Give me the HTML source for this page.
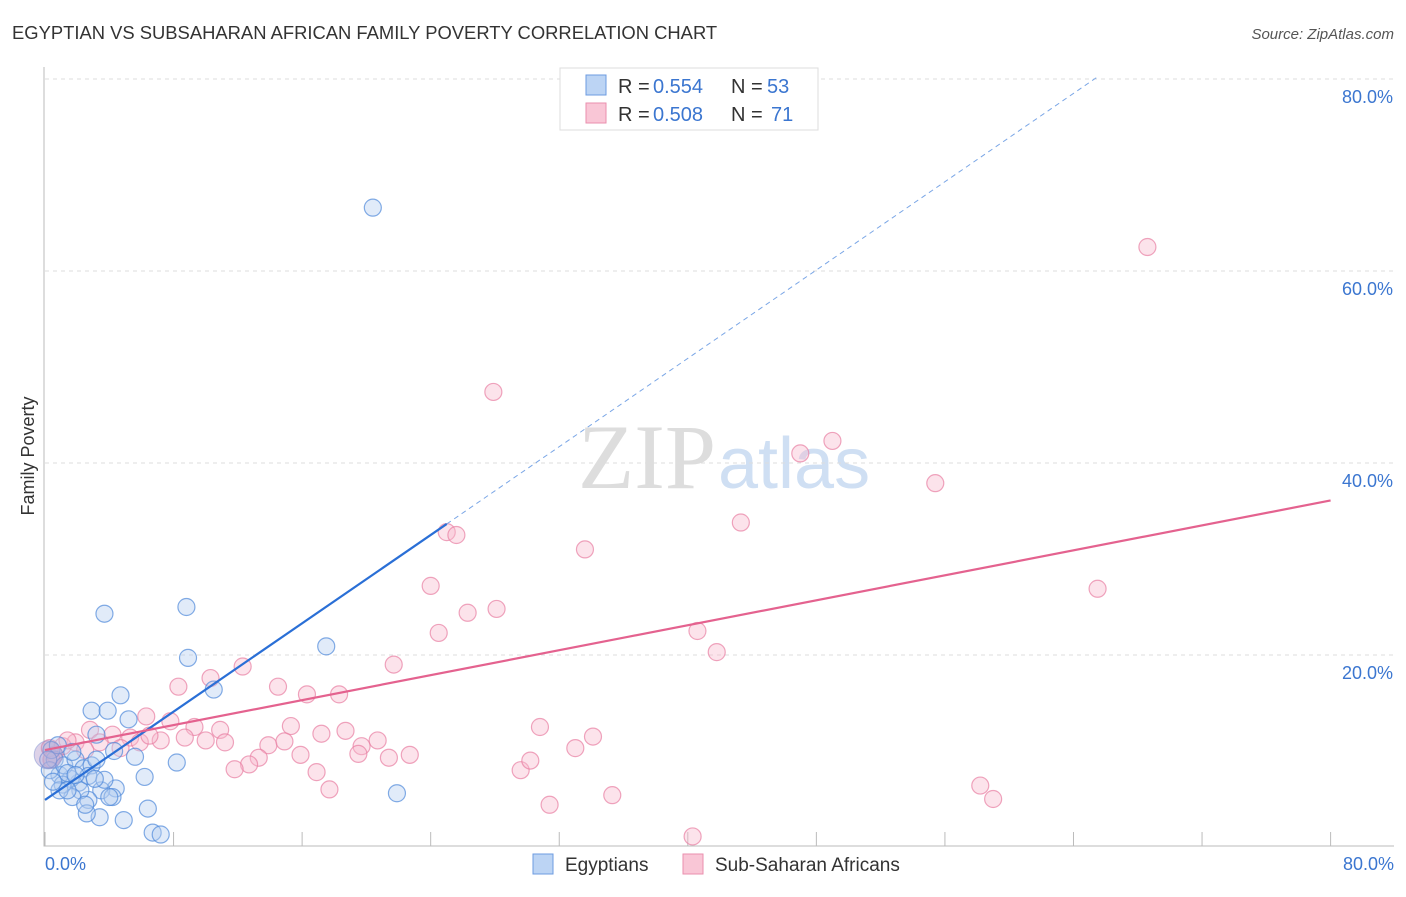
<!DOCTYPE html>
<html><head><meta charset="utf-8"><style>
body{margin:0;background:#fff;font-family:"Liberation Sans",sans-serif}
</style></head><body>
<svg width="1406" height="892" viewBox="0 0 1406 892" id="chart">
<text x="12" y="39" font-size="18.4" fill="#333">EGYPTIAN VS SUBSAHARAN AFRICAN FAMILY POVERTY CORRELATION CHART</text>
<text x="1394" y="39" font-size="15" fill="#555" font-style="italic" text-anchor="end">Source: ZipAtlas.com</text>
<text x="716" y="488" font-size="92" fill="#ddd" text-anchor="end" font-family="Liberation Serif">ZIP</text>
<text x="718" y="488" font-size="72" fill="#cfdff3">atlas</text>
<g id="grid"></g>
<g id="axes"></g>
<g id="marks"></g>
<text transform="translate(34,456) rotate(-90)" font-size="18" fill="#333" text-anchor="middle">Family Poverty</text>
<text x="45" y="870" font-size="18" fill="#3b76d0">0.0%</text>
<text x="1394" y="870" font-size="18" fill="#3b76d0" text-anchor="end">80.0%</text>
<g>
<rect x="560" y="68" width="258" height="62" fill="#fff" stroke="#ddd"/>
<rect x="586" y="75" width="20" height="20" fill="#bcd4f4" stroke="#6d9be0"/>
<rect x="586" y="103" width="20" height="20" fill="#f9c6d6" stroke="#ea8fae"/>
<text x="618" y="93" font-size="20" fill="#333">R = </text>
<text x="653" y="93" font-size="20" fill="#3b76d0">0.554</text>
<text x="731" y="93" font-size="20" fill="#333">N = </text>
<text x="767" y="93" font-size="20" fill="#3b76d0">53</text>
<text x="618" y="121" font-size="20" fill="#333">R = </text>
<text x="653" y="121" font-size="20" fill="#3b76d0">0.508</text>
<text x="731" y="121" font-size="20" fill="#333">N = </text>
<text x="771" y="121" font-size="20" fill="#3b76d0">71</text>
</g>
<g>
<rect x="533" y="854" width="20" height="20" fill="#bcd4f4" stroke="#6d9be0"/>
<text x="565" y="871" font-size="19" fill="#333">Egyptians</text>
<rect x="683" y="854" width="20" height="20" fill="#f9c6d6" stroke="#ea8fae"/>
<text x="715" y="871" font-size="19" fill="#333">Sub-Saharan Africans</text>
</g>
</svg>
<script>
const yTicks=[20,40,60,80];
const yTickLabels=["20.0%","40.0%","60.0%","80.0%"];
const xTicks=[0,8,16,24,32,40,48,56,64,72,80];
const blueX=[20.4,3.7,8.8,8.9,10.5,17.5,4.7,2.9,3.9,5.2,3.2,4.3,5.6,8.2,6.2,21.9,4.4,3.5,2.7,4.2,6.4,4.9,3.4,2.6,6.7,7.2,2.1,1.6,0.9,0.6,0.4,0.3,1.2,1.9,2.4,2.9,2.2,1.7,1.1,3.2,2.7,1.4,0.8,2.5,3.7,4.0,1.9,0.9,0.2,0.5,1.4,3.1,1.7];
const blueY=[66.6,24.3,25.0,19.7,16.4,20.9,15.8,14.2,14.2,13.3,11.7,10.0,9.4,8.8,7.3,5.6,6.1,5.9,4.9,5.2,4.0,2.8,3.1,3.5,1.5,1.3,6.7,7.1,7.5,9.1,10.1,8.0,8.5,9.1,8.2,8.5,5.9,5.2,6.5,9.1,7.4,7.7,10.6,4.4,7.0,5.2,7.5,5.9,9.1,6.8,5.9,7.1,9.9];
const pinkX=[68.6,27.9,49.0,47.0,55.4,43.3,25.0,25.6,33.6,24.0,26.3,28.1,65.5,24.5,40.6,41.8,21.7,12.3,8.3,10.3,14.5,16.3,18.3,7.8,9.3,10.9,15.3,17.2,18.7,20.7,19.7,19.5,21.4,22.7,13.9,14.9,13.3,12.7,11.8,15.9,16.9,17.7,29.6,30.2,30.8,33.0,34.1,31.4,35.3,40.3,58.2,59.0,6.3,5.3,4.2,2.8,1.9,1.1,0.6,1.4,3.4,4.7,7.2,8.7,10.0,11.2,5.9,0.3,2.5,6.5,0.4];
const pinkY=[62.5,47.4,42.3,41.0,37.9,33.8,32.8,32.5,31.0,27.2,24.4,24.8,26.9,22.3,22.5,20.3,19.0,18.8,16.7,17.6,16.7,15.9,15.9,13.1,12.5,12.2,12.6,11.8,12.1,11.1,10.5,9.7,9.3,9.6,10.6,11.0,9.3,8.6,8.1,9.6,7.8,6.0,8.0,9.0,12.5,10.3,11.5,4.4,5.4,1.1,6.4,5.0,13.6,11.4,11.7,12.2,10.9,10.5,9.6,11.1,10.9,10.3,11.1,11.4,11.1,10.9,10.9,10.3,10.1,11.6,9.1];
const blueLine=[4.9,1.15];
const pinkLine=[10.1,0.325];
const NS="http://www.w3.org/2000/svg";
const X=v=>45+v*16.07, Y=v=>847-v*9.6;
function mk(t,a,p){const e=document.createElementNS(NS,t);for(const k in a)e.setAttribute(k,a[k]);p.appendChild(e);return e;}
const grid=document.getElementById('grid'),axes=document.getElementById('axes'),marks=document.getElementById('marks');
yTicks.forEach((t,i)=>{
 const l=mk('line',{x1:45,x2:1394,y1:Y(t),y2:Y(t),stroke:'#ddd','stroke-dasharray':'4,4'},grid);
 
 
 const tx=mk('text',{x:1393,y:Y(t)+24,'font-size':18,fill:'#3b76d0','text-anchor':'end'},grid);
 tx.textContent=yTickLabels[i];
 
 
});
const ax=mk('path',{d:'M44,67 V846 H1394',stroke:'#bbb',fill:'none'},axes);


xTicks.forEach(t=>{
 const l=mk('line',{x1:X(t),x2:X(t),y1:832,y2:846,stroke:'#bbb'},axes);
 
 
});
function dots(xs,ys,fill,stroke,name){
 xs.forEach((x,i)=>{
  const c=mk('circle',{cx:X(x),cy:Y(ys[i]),r:8.5,fill:fill,'fill-opacity':0.4,stroke:stroke,'stroke-opacity':0.7,'stroke-width':1.2},marks);
  
  
 });
}
dots(pinkX,pinkY,'#f7b9cd','#e87fa3','subsaharan-point');
dots(blueX,blueY,'#b3cdf0','#4f89da','egyptian-point');
let big=mk('circle',{cx:X(0.2),cy:Y(9.6),r:14,fill:'#b39ccc','fill-opacity':0.45,stroke:'#7d8fd0','stroke-opacity':0.5},marks);


const bx2=25, bxe=65.6;
let l1=mk('line',{x1:X(0),y1:Y(blueLine[0]),x2:X(bx2),y2:Y(blueLine[0]+blueLine[1]*bx2),stroke:'#2a6fd6','stroke-width':2.2},marks);


let l2=mk('line',{x1:X(bx2),y1:Y(blueLine[0]+blueLine[1]*bx2),x2:X(bxe),y2:Y(blueLine[0]+blueLine[1]*bxe),stroke:'#7aa6e6','stroke-width':1,'stroke-dasharray':'5,4'},marks);


let l3=mk('line',{x1:X(0),y1:Y(pinkLine[0]),x2:X(80),y2:Y(pinkLine[0]+pinkLine[1]*80),stroke:'#e4628f','stroke-width':2.2},marks);


</script>
</body></html>
